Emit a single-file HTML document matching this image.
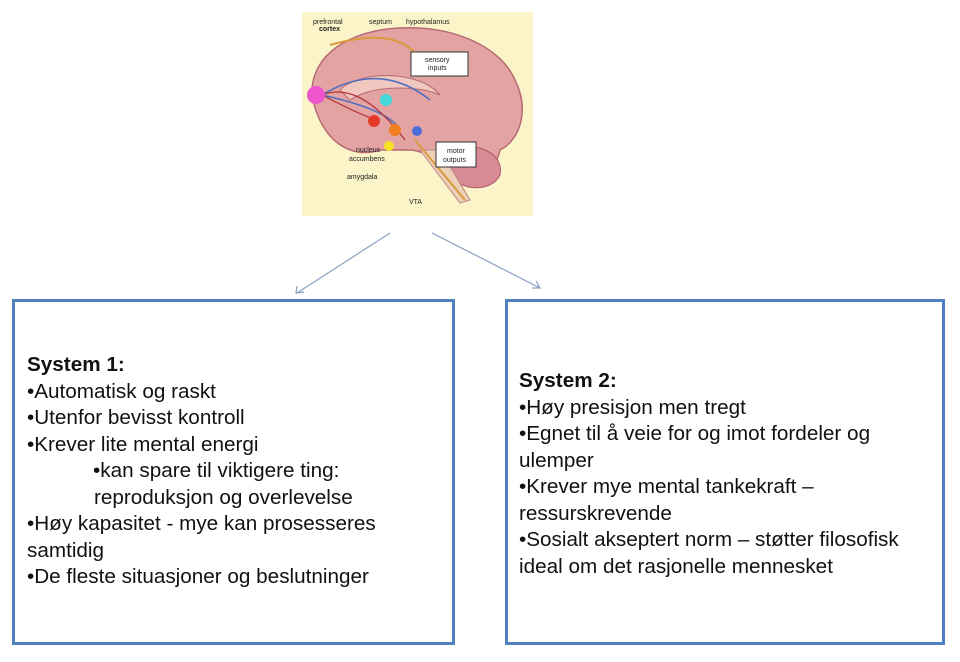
<!DOCTYPE html>
<html><head><meta charset="utf-8"><style>
body{margin:0;width:960px;height:662px;background:#fff;position:relative;overflow:hidden;font-family:"Liberation Sans",sans-serif}
.box{position:absolute;border:3px solid #4f7fbf;box-sizing:border-box;background:#fff}
.t{position:absolute;font-size:20.7px;line-height:26.5px;color:#111;white-space:nowrap}
</style></head><body>
<svg width="960" height="662" style="position:absolute;left:0;top:0">
<rect x="302" y="12" width="231" height="204" fill="#fbf4c9"/>
<path d="M312 95 C310 55 350 30 400 28 C450 25 500 45 515 80 C530 110 520 140 500 150 C495 175 470 185 450 170 C440 160 420 150 410 150 L380 150 C350 160 320 140 312 95Z" fill="#e3a3a3" stroke="#b56a72" stroke-width="1.5"/>
<path d="M445 150 C470 140 505 150 500 175 C490 195 455 190 445 170Z" fill="#d88a95" stroke="#a85a66"/>
<path d="M420 150 L440 150 L470 200 L460 203 Z" fill="#edd0b8" stroke="#b88"/>
<path d="M340 90 C360 70 420 70 440 95 C420 85 370 85 350 100Z" fill="#f0c8c0" stroke="#b56a72"/>
<path d="M330 45 Q400 25 420 60" fill="none" stroke="#d89a3a" stroke-width="2"/>
<path d="M322 95 Q380 60 430 100 M322 95 Q390 110 400 130" fill="none" stroke="#4d6ec0" stroke-width="1.5"/>
<path d="M322 95 Q370 120 380 120 M322 95 Q360 80 405 140" fill="none" stroke="#b03030" stroke-width="1.2"/>
<path d="M415 140 L465 200" stroke="#d89a3a" stroke-width="2"/>
<circle cx="316" cy="95" r="9" fill="#ee55cc"/>
<circle cx="386" cy="100" r="6" fill="#44d8d8"/>
<circle cx="374" cy="121" r="6" fill="#e43a2a"/>
<circle cx="395" cy="130" r="6" fill="#f08020"/>
<circle cx="389" cy="146" r="5" fill="#f6e020"/>
<circle cx="417" cy="131" r="5" fill="#4d70d8"/>
<rect x="411" y="52" width="57" height="24" fill="#fff" stroke="#333"/>
<rect x="436" y="142" width="40" height="25" fill="#fff" stroke="#333"/>
<g font-size="7" fill="#222" font-family="Liberation Sans">
<text x="313" y="24">prefrontal</text><text x="319" y="31" font-weight="bold">cortex</text>
<text x="369" y="24">septum</text><text x="406" y="24">hypothalamus</text>
<text x="425" y="62">sensory</text><text x="428" y="70">inputs</text>
<text x="447" y="153">motor</text><text x="443" y="162">outputs</text>
<text x="356" y="152">nucleus</text><text x="349" y="161">accumbens</text>
<text x="347" y="179">amygdala</text><text x="409" y="204">VTA</text>
</g>
<g stroke="#8aa0c0" stroke-width="1.2" fill="none">
<line x1="390" y1="233" x2="297" y2="293"/><path d="M297 286 L296 293 L304 292"/>
<line x1="432" y1="233" x2="540" y2="288"/><path d="M532 288 L540 288 L536 281"/>
</g>
</svg>
<div class="box" style="left:12px;top:299px;width:443px;height:346px"></div>
<div class="box" style="left:505px;top:299px;width:440px;height:346px"></div>
<div class="t" style="left:27px;top:352px"><b>System 1:</b><br>•Automatisk og raskt<br>•Utenfor bevisst kontroll<br>•Krever lite mental energi<br><span style="padding-left:66px">•kan spare til viktigere ting:</span><br><span style="padding-left:67px">reproduksjon og overlevelse</span><br>•Høy kapasitet - mye kan prosesseres<br>samtidig<br>•De fleste situasjoner og beslutninger</div>
<div class="t" style="left:519px;top:368px"><b>System 2:</b><br>•Høy presisjon men tregt<br>•Egnet til å veie for og imot fordeler og<br>ulemper<br>•Krever mye mental tankekraft –<br>ressurskrevende<br>•Sosialt akseptert norm – støtter filosofisk<br>ideal om det rasjonelle mennesket</div>
</body></html>
